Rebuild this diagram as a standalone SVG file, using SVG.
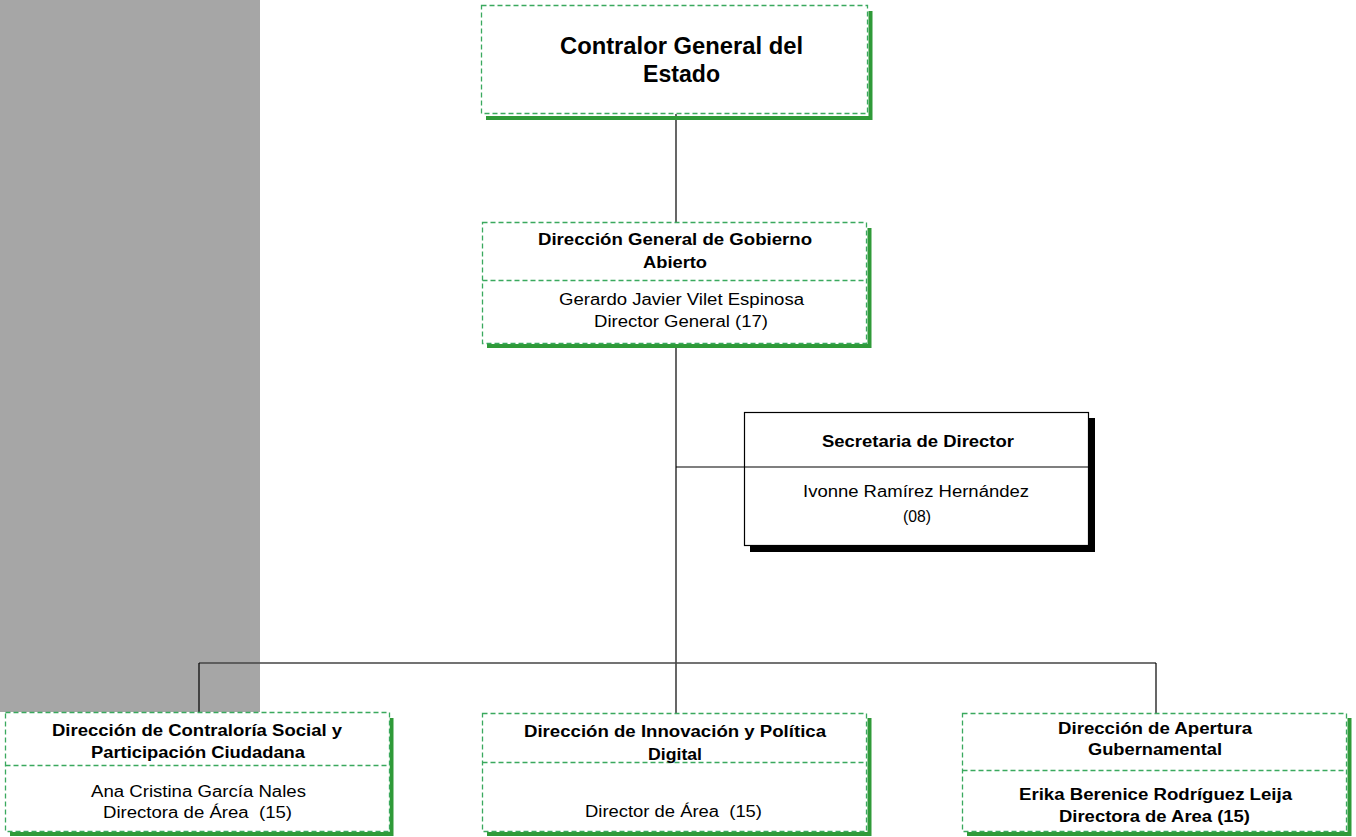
<svg xmlns="http://www.w3.org/2000/svg" width="1356" height="837" viewBox="0 0 1356 837">
<style>
.box{fill:#fff;stroke:#3aa95e;stroke-width:1.3;stroke-dasharray:5,3}
.div{stroke:#3aa95e;stroke-width:1.3;stroke-dasharray:5,3;fill:none}
.gsh{fill:none;stroke:#2f9a38;stroke-width:4}
.conn{stroke:#000;stroke-width:1.2;fill:none}
text{font-family:"Liberation Sans",Arial,sans-serif;font-size:16px;fill:#000}
.b{font-weight:bold}
.big{font-size:23px;font-weight:bold}
.pre{white-space:pre}
</style>
<rect x="0" y="0" width="260" height="712" fill="#a6a6a6"/>
<g id="connectors">
<line class="conn" x1="676" y1="114" x2="676" y2="222"/>
<line class="conn" x1="676" y1="344" x2="676" y2="713"/>
<line class="conn" x1="676" y1="467" x2="744" y2="467"/>
<line x1="199" y1="663" x2="1156" y2="663" stroke="#444" stroke-width="1.5"/>
<line class="conn" x1="199" y1="663" x2="199" y2="712"/>
<line class="conn" x1="1156" y1="663" x2="1156" y2="713"/>
</g>
<g id="contralor">
<polyline class="gsh" points="486,118 870.5,118 870.5,11"/>
<rect class="box" x="481.5" y="5.5" width="386" height="108"/>
<text class="big" x="560" y="54" textLength="243" lengthAdjust="spacingAndGlyphs">Contralor General del</text>
<text class="big" x="643" y="82" textLength="77" lengthAdjust="spacingAndGlyphs">Estado</text>
</g>
<g id="dg-gobierno-abierto">
<polyline class="gsh" points="487,346 869.5,346 869.5,228"/>
<rect class="box" x="482.5" y="222.5" width="384" height="121"/>
<line class="div" x1="482.5" y1="280.5" x2="866.5" y2="280.5"/>
<text class="b" x="538" y="245" textLength="274" lengthAdjust="spacingAndGlyphs">Dirección General de Gobierno</text>
<text class="b" x="643" y="268" textLength="64" lengthAdjust="spacingAndGlyphs">Abierto</text>
<text x="559" y="305" textLength="245" lengthAdjust="spacingAndGlyphs">Gerardo Javier Vilet Espinosa</text>
<text x="594" y="327" textLength="174" lengthAdjust="spacingAndGlyphs">Director General (17)</text>
</g>
<g id="secretaria">
<rect x="750" y="418" width="345" height="134" fill="#000"/>
<rect x="744.5" y="412.5" width="344" height="133" fill="#fff" stroke="#000" stroke-width="1.2"/>
<line x1="744.5" y1="467" x2="1088.5" y2="467" stroke="#000" stroke-width="1.2"/>
<text class="b" x="822" y="447" textLength="192" lengthAdjust="spacingAndGlyphs">Secretaria de Director</text>
<text x="803" y="497" textLength="226" lengthAdjust="spacingAndGlyphs">Ivonne Ramírez Hernández</text>
<text x="903" y="522" textLength="28" lengthAdjust="spacingAndGlyphs">(08)</text>
</g>
<g id="contraloria-social">
<polyline class="gsh" points="10,834 391.5,834 391.5,718"/>
<rect class="box" x="5.5" y="712.5" width="384" height="119"/>
<line class="div" x1="5.5" y1="765.5" x2="389.5" y2="765.5"/>
<text class="b" x="52" y="736" textLength="290" lengthAdjust="spacingAndGlyphs">Dirección de Contraloría Social y</text>
<text class="b" x="91" y="758" textLength="214" lengthAdjust="spacingAndGlyphs">Participación Ciudadana</text>
<text x="91" y="797" textLength="215" lengthAdjust="spacingAndGlyphs">Ana Cristina García Nales</text>
<text class="pre" x="103" y="818" textLength="189" lengthAdjust="spacingAndGlyphs" xml:space="preserve">Directora de Área  (15)</text>
</g>
<g id="innovacion">
<polyline class="gsh" points="487,834 869.5,834 869.5,718"/>
<rect class="box" x="482.5" y="713.5" width="384" height="118"/>
<line class="div" x1="482.5" y1="762.5" x2="866.5" y2="762.5"/>
<text class="b" x="524" y="737" textLength="302" lengthAdjust="spacingAndGlyphs">Dirección de Innovación y Política</text>
<text class="b" x="648" y="760" textLength="54" lengthAdjust="spacingAndGlyphs">Digital</text>
<text class="pre" x="585" y="817" textLength="177" lengthAdjust="spacingAndGlyphs" xml:space="preserve">Director de Área  (15)</text>
</g>
<g id="apertura">
<polyline class="gsh" points="967,834 1349.5,834 1349.5,718"/>
<rect class="box" x="962.5" y="713.5" width="384" height="118"/>
<line class="div" x1="962.5" y1="770.5" x2="1346.5" y2="770.5"/>
<text class="b" x="1058" y="734" textLength="194" lengthAdjust="spacingAndGlyphs">Dirección de Apertura</text>
<text class="b" x="1088" y="755" textLength="134" lengthAdjust="spacingAndGlyphs">Gubernamental</text>
<text class="b" x="1019" y="800" textLength="273" lengthAdjust="spacingAndGlyphs">Erika Berenice Rodríguez Leija</text>
<text class="b" x="1059" y="822" textLength="191" lengthAdjust="spacingAndGlyphs">Directora de Area (15)</text>
</g>
</svg>
